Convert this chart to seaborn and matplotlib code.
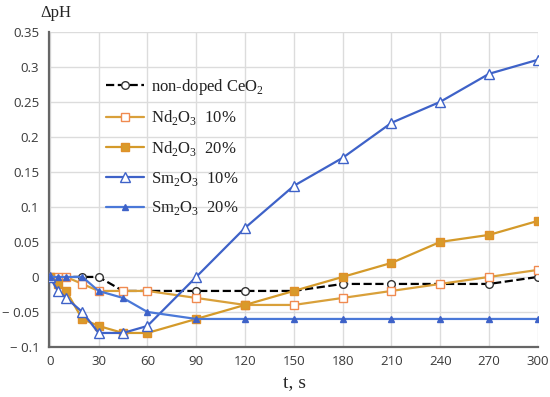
import matplotlib
matplotlib.use('Agg')
import matplotlib.pyplot as plt
import seaborn as sns
import pandas as pd

# time points, s
t = [0, 5, 10, 20, 30, 45, 60, 90, 120, 150, 180, 210, 240, 270, 300]

ceo2 = [0, 0, 0, 0, 0, -0.02, -0.02, -0.02, -0.02, -0.02, -0.01, -0.01, -0.01, -0.01, 0]
nd10 = [0, 0, 0, -0.01, -0.02, -0.02, -0.02, -0.03, -0.04, -0.04, -0.03, -0.02, -0.01, 0, 0.01]
nd20 = [0, -0.01, -0.02, -0.06, -0.07, -0.08, -0.08, -0.06, -0.04, -0.02, 0, 0.02, 0.05, 0.06, 0.08]
sm10 = [0, -0.02, -0.03, -0.05, -0.08, -0.08, -0.07, 0, 0.07, 0.13, 0.17, 0.22, 0.25, 0.29, 0.31]
sm20 = [0, 0, 0, 0, -0.02, -0.03, -0.05, -0.06, -0.06, -0.06, -0.06, -0.06, -0.06, -0.06, -0.06]

labels = ['non-doped CeO$_2$', 'Nd$_2$O$_3$  10%', 'Nd$_2$O$_3$  20%',
          'Sm$_2$O$_3$  10%', 'Sm$_2$O$_3$  20%']
xticks = [0, 30, 60, 90, 120, 150, 180, 210, 240, 270, 300]

sns.set_style('white')
plt.rcParams['mathtext.fontset'] = 'custom'
plt.rcParams['mathtext.rm'] = 'Liberation Serif'

df = pd.DataFrame({'t': t, 'ceo2': ceo2, 'nd10': nd10, 'nd20': nd20, 'sm10': sm10, 'sm20': sm20})

fig = plt.figure(figsize=(5.5, 3.97), dpi=100)
ax = fig.add_axes([0.089, 0.126, 0.889, 0.794])

styles = [
    ('ceo2', dict(color='black', ls='--', lw=1.6, marker='o', ms=5.5, mfc='white', mec='#333333', mew=1.0)),
    ('nd10', dict(color='#D9A03A', lw=1.6, marker='s', ms=5.5, mfc='white', mec='#F08A50', mew=1.0)),
    ('nd20', dict(color='#D49A2A', lw=1.6, marker='s', ms=5.5, mfc='#D99A2A', mec='#E0902A', mew=1.0)),
    ('sm10', dict(color='#3E62C8', lw=1.6, marker='^', ms=6.5, mfc='white', mec='#3E62C8', mew=1.0)),
    ('sm20', dict(color='#4A78D8', lw=1.6, marker='^', ms=5, mfc='#3E62C8', mec='#3E62C8', mew=1.0)),
]
for (col, kw), lab in zip(styles, labels):
    sns.lineplot(data=df, x='t', y=col, ax=ax, label=lab, zorder=3, **kw)

ax.set_xlim(-0.5, 300)
ax.set_ylim(-0.1, 0.35)
ax.set_xticks(xticks)
ax.set_yticks([-0.1, -0.05, 0, 0.05, 0.1, 0.15, 0.2, 0.25, 0.3, 0.35])
ax.set_yticklabels(['\u2212 0.1', '\u2212 0.05', '0', '0.05', '0.1', '0.15', '0.2', '0.25', '0.3', '0.35'])
ax.grid(True, color='#dcdcdc', lw=1.0)
for s in ['top', 'right']:
    ax.spines[s].set_visible(False)
for s in ['left', 'bottom']:
    ax.spines[s].set_color('#666666')
    ax.spines[s].set_linewidth(1.6)
ax.tick_params(axis='x', pad=6)
ax.tick_params(axis='y', pad=7)
ax.tick_params(axis='both', labelsize=10, colors='#3a3a3a', length=0)
for lbl in ax.get_xticklabels() + ax.get_yticklabels():
    lbl.set_family('Open Sans')
    lbl.set_fontsize(9.5)

ax.set_xlabel('')
ax.set_ylabel('')
fig.text(0.073, 0.968, '\u0394pH', fontsize=12, family='Liberation Serif', va='center')
fig.text(0.535, 0.036, 't, s', fontsize=14, family='Liberation Serif', ha='center', va='center')

leg = ax.legend(loc='upper left', bbox_to_anchor=(0.085, 0.905), frameon=False,
                prop={'family': 'Liberation Serif', 'size': 12},
                labelspacing=0.7, handlelength=2.3, handletextpad=0.4)
for txt in leg.get_texts():
    txt.set_color('#222222')

fig.savefig('out.png', dpi=100)
